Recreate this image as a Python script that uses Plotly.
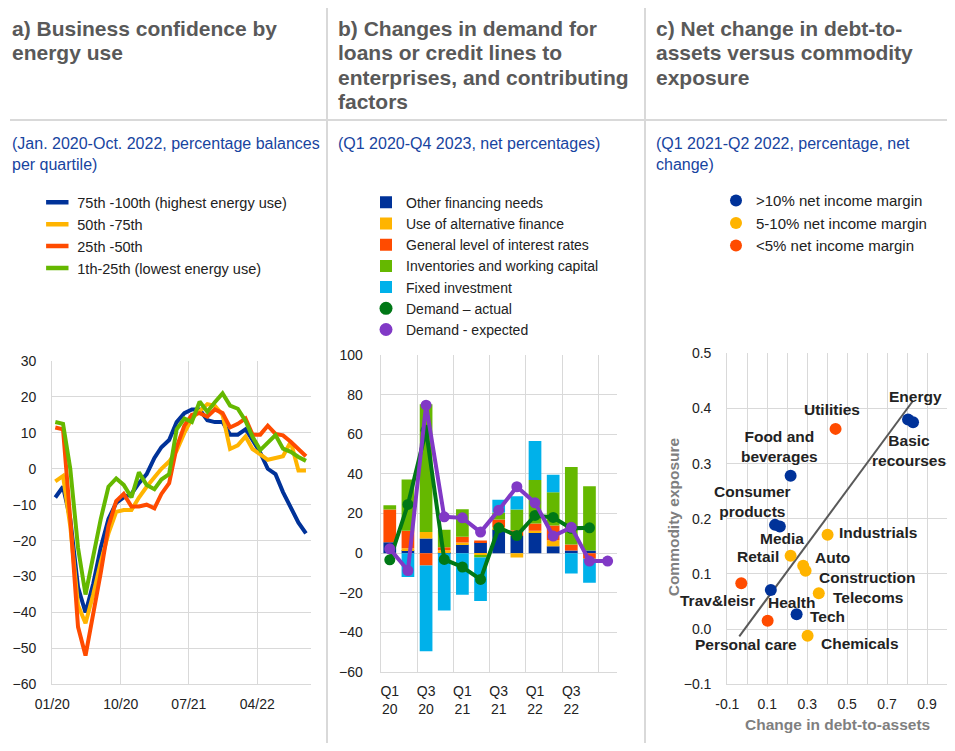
import pandas as pd
import plotly.graph_objects as go

# ---------------- data ----------------
# Panel a: business confidence by energy-use quartile (monthly, Jan 2020 - Oct 2022)
months = pd.date_range("2020-01-01", periods=34, freq="MS")
month_ticks = ["2020-01-01", "2020-10-01", "2021-07-01", "2022-04-01"]
month_tick_labels = ["01/20", "10/20", "07/21", "04/22"]
q4_highest = [-8, -5, -14, -33, -40, -32, -22, -14, -9.5, -8, -7, -4, -1.5, 3, 6, 8, 13, 15.5,
              16.5, 16.5, 13.5, 13, 13, 9.5, 9.5, 11, 8, 4.5, 0, -1.5, -6.5, -11, -15, -18]
q3_mid_high = [-3.5, -2, -16, -38, -43, -35, -26, -18, -12, -11.5, -11.5, -8, -5, -2.5, 0, 2, 5, 10,
               14, 16, 18, 17.5, 15, 5.5, 6.5, 9, 5.5, 4, 2.5, 3, 3.5, 7.5, -0.5, -0.5]
q2_mid_low = [11.5, 11, -14, -44, -52, -41, -29, -16, -9, -7, -10.5, -10.5, -10, -11, -7, -4, 6, 12,
              15, 15.5, 14.5, 16.5, 15.5, 11.5, 12.5, 14, 9.5, 9.5, 12, 9.7, 9.3, 7.5, 5.5, 3.5]
q1_lowest = [13, 12.5, 0, -22, -35, -24, -14, -5, -2.7, -4.5, -8, -1, -4.5, -5.7, -3, -1.5, 11, 14,
             13, 18.7, 15.9, 18.5, 21, 17.6, 16.7, 13.3, 8.9, 5.2, 7.2, 9.4, 5.6, 4.7, 3.3, 2.2]
names_a = ["75th -100th (highest energy use)", "50th -75th", "25th -50th", "1th-25th (lowest energy use)"]

# Panel b: loan demand and contributing factors (quarterly)
quarters = ["Q1 20", "Q2 20", "Q3 20", "Q4 20", "Q1 21", "Q2 21", "Q3 21", "Q4 21",
            "Q1 22", "Q2 22", "Q3 22", "Q4 22", "Q1 23"]
other_financing = [5.5, 1.5, 7.4, 0.5, 4.4, 5.6, 12, 8.6, 10.3, 3.5, 1.3, 1.3, None]
alternative_finance = [0, 1, 3.2, 1, 1, -1, 1, -2.2, 1, 3, 0, 0, None]
interest_rates = [16.5, 8.8, -6.2, 1.5, 2.9, 0.8, 4, 3, 3.7, 7.5, 3, -2.9, None]
inventories = [2.2, 25.8, 64.5, 8.8, 13.8, -1.2, 3.5, 10.4, 21.9, 16.7, 39.2, 32.5, None]
fixed_investment = [0, -12, -43.3, -29, -21, -22, 6.5, 6.7, 19.7, 8.9, -10.3, -12.1, None]
demand_actual = [-3.4, 24.6, 62, -3.2, -7, -13.3, 12.8, 8.9, 19, 18, 12.5, 12.8, None]
demand_expected = [2.2, -8.8, 74.7, 18.3, 17.8, 10.6, 21.7, 33.5, 25.4, 8.6, 13, -4, -4]

# Panel c: net change in debt-to-assets vs commodity exposure
sectors = ["Energy", "Basic<br>recourses", "Utilities", "Food and<br>beverages", "Consumer<br>products",
           "Media", "Industrials", "Retail", "Auto", "Construction", "Telecoms", "Trav&leisr",
           "Health", "Tech", "Personal care", "Chemicals"]
debt_change = [0.805, 0.83, 0.442, 0.217, 0.139, 0.163, 0.402, 0.217, 0.28, 0.292, 0.358, -0.03,
               0.118, 0.247, 0.102, 0.302]
commodity_exposure = [0.38, 0.375, 0.363, 0.278, 0.189, 0.186, 0.171, 0.133, 0.115, 0.106, 0.065,
                      0.083, 0.071, 0.027, 0.015, -0.012]
margin_group = [">10%", ">10%", "<5%", ">10%", ">10%", ">10%", "5-10%", "5-10%", "5-10%", "5-10%",
                "5-10%", "<5%", ">10%", ">10%", "<5%", "5-10%"]
trend_x = [-0.04, 0.83]
trend_y = [-0.013, 0.414]

# ---------------- styling ----------------
PAGE_W, PAGE_H = 955, 751
BODY_MARGIN = 8                      # default browser body margin
W, H = PAGE_W - 2 * BODY_MARGIN, PAGE_H - 2 * BODY_MARGIN
FONT = "Arial, Liberation Sans, sans-serif"
GRID = "#d9d9d9"
TICK = "#222222"
TITLE_C = "#595959"
SUB_C = "#17449f"
DBLUE, YELLOW, ORANGE, GREEN, LBLUE = "#003299", "#FFB400", "#FF4B00", "#65B800", "#00B1EA"
DGREEN, PURPLE = "#007816", "#8139C6"


def fx(px):
    """page pixel x -> paper fraction"""
    return (px - BODY_MARGIN) / W


def fy(py):
    """page pixel y -> paper fraction"""
    return 1 - (py - BODY_MARGIN) / H


def dom(a, b):
    return [max(0.0, min(1.0, a)), max(0.0, min(1.0, b))]


fig = go.Figure()

# ---- panel a ----
xdates = months + pd.Timedelta(days=12)
for vals, name, col in zip([q4_highest, q3_mid_high, q2_mid_low, q1_lowest], names_a,
                           [DBLUE, YELLOW, ORANGE, GREEN]):
    fig.add_trace(go.Scatter(x=xdates, y=vals, mode="lines", line=dict(color=col, width=4),
                             showlegend=False, xaxis="x", yaxis="y", hoverinfo="skip"))
    fig.add_trace(go.Scatter(x=[None], y=[None], mode="markers", name=name, legend="legend",
                             marker=dict(symbol="line-ew", size=16, color=col,
                                         line=dict(color=col, width=4.5)),
                             xaxis="x", yaxis="y"))

# ---- panel b ----
xq = list(range(len(quarters)))
for vals, name, col in zip([other_financing, alternative_finance, interest_rates, inventories, fixed_investment],
                           ["Other financing needs", "Use of alternative finance", "General level of interest rates",
                            "Inventories and working capital", "Fixed investment"],
                           [DBLUE, YELLOW, ORANGE, GREEN, LBLUE]):
    fig.add_trace(go.Bar(x=xq, y=vals, name=name, marker=dict(color=col, line=dict(width=0)),
                         width=0.7, legend="legend2", xaxis="x2", yaxis="y2"))
for vals, name, col in zip([demand_actual, demand_expected], ["Demand \u2013 actual", "Demand - expected"],
                           [DGREEN, PURPLE]):
    fig.add_trace(go.Scatter(x=xq, y=vals, mode="lines+markers", line=dict(color=col, width=4),
                             marker=dict(color=col, size=11), showlegend=False,
                             xaxis="x2", yaxis="y2"))
    fig.add_trace(go.Scatter(x=[None], y=[None], mode="markers", name=name, legend="legend2",
                             marker=dict(color=col, size=13), xaxis="x2", yaxis="y2"))

# ---- panel c ----
fig.add_trace(go.Scatter(x=trend_x, y=trend_y, mode="lines", line=dict(color="#595959", width=2),
                         showlegend=False, xaxis="x3", yaxis="y3", hoverinfo="skip"))
for grp, label, col in [(">10%", ">10% net income margin", DBLUE),
                        ("5-10%", "5-10% net income margin", YELLOW),
                        ("<5%", "<5% net income margin", ORANGE)]:
    idx = [i for i, g in enumerate(margin_group) if g == grp]
    fig.add_trace(go.Scatter(x=[debt_change[i] for i in idx], y=[commodity_exposure[i] for i in idx],
                             mode="markers", name=label, legend="legend3",
                             marker=dict(color=col, size=12),
                             text=[sectors[i] for i in idx], xaxis="x3", yaxis="y3"))

# label offsets (pixels: dx right, dy down) and anchors for panel c point labels
label_offsets = {
    "Energy": (7, -23, "center"), "Basic<br>recourses": (-4, 28, "center"),
    "Utilities": (-4, -19, "center"), "Food and<br>beverages": (-11, -29, "center"),
    "Consumer<br>products": (-23, -23, "center"), "Media": (2, 12, "center"),
    "Industrials": (9, -2, "left"), "Retail": (-10, 1, "right"), "Auto": (10, -8, "left"),
    "Construction": (11, 7, "left"), "Telecoms": (12, 4, "left"), "Trav&leisr": (-24, 17, "center"),
    "Health": (21, 13, "center"), "Tech": (11, 2, "left"), "Personal care": (-22, 24, "center"),
    "Chemicals": (11, 8, "left"),
}

annotations = []
for s, xv, yv in zip(sectors, debt_change, commodity_exposure):
    dx, dy, anc = label_offsets[s]
    annotations.append(dict(x=xv, y=yv, xref="x3", yref="y3", text="<b>" + s + "</b>", showarrow=False,
                            xanchor=anc, yanchor="middle", xshift=dx, yshift=-dy,
                            font=dict(family=FONT, size=15.5, color="#222222")))

# panel titles and subtitles
titles = [
    (10, ["a) Business confidence by", "energy use"]),
    (336, ["b) Changes in demand for", "loans or credit lines to", "enterprises, and contributing", "factors"]),
    (654, ["c) Net change in debt-to-", "assets versus commodity", "exposure"]),
]
for xl, lines in titles:
    for k, t in enumerate(lines):
        annotations.append(dict(x=fx(xl), y=fy(28.5 + 24.4 * k), xref="paper", yref="paper",
                                text="<b>" + t + "</b>", showarrow=False, xanchor="left", yanchor="middle",
                                font=dict(family=FONT, size=21, color=TITLE_C)))
subtitles = [
    (10, ["(Jan. 2020-Oct. 2022, percentage balances", "per quartile)"]),
    (336, ["(Q1 2020-Q4 2023, net percentages)"]),
    (654, ["(Q1 2021-Q2 2022, percentage, net", "change)"]),
]
for xl, lines in subtitles:
    for k, t in enumerate(lines):
        annotations.append(dict(x=fx(xl), y=fy(143.3 + 21.7 * k), xref="paper", yref="paper",
                                text=t, showarrow=False, xanchor="left", yanchor="middle",
                                font=dict(family=FONT, size=16, color=SUB_C)))

# axis titles panel c
annotations.append(dict(x=fx(837), y=fy(724.3), xref="paper", yref="paper", text="<b>Change in debt-to-assets</b>",
                        showarrow=False, xanchor="center", yanchor="middle",
                        font=dict(family=FONT, size=15.5, color="#7f7f7f")))
annotations.append(dict(x=fx(673.3), y=fy(517), xref="paper", yref="paper", text="<b>Commodity exposure</b>",
                        showarrow=False, xanchor="center", yanchor="middle", textangle=-90,
                        font=dict(family=FONT, size=15.5, color="#7f7f7f")))

shapes = [
    dict(type="line", xref="paper", yref="paper", x0=fx(10), x1=fx(955), y0=fy(120), y1=fy(120),
         line=dict(color=GRID, width=2)),
    dict(type="line", xref="paper", yref="paper", x0=fx(327), x1=fx(327), y0=fy(8), y1=fy(743),
         line=dict(color=GRID, width=2)),
    dict(type="line", xref="paper", yref="paper", x0=fx(645), x1=fx(645), y0=fy(8), y1=fy(743),
         line=dict(color=GRID, width=2)),
]

tickfont = dict(family=FONT, size=14, color=TICK)
axis_common = dict(showgrid=True, gridcolor=GRID, gridwidth=1.3, showline=True, linecolor=GRID,
                   linewidth=1.3, ticks="", tickfont=tickfont, zeroline=False, fixedrange=True,
                   automargin=False)


def legend_style(size):
    return dict(xanchor="left", yanchor="top", bgcolor="rgba(0,0,0,0)", traceorder="normal",
                font=dict(family=FONT, size=size, color=TICK), borderwidth=0)


fig.update_layout(
    width=W, height=H, autosize=False, margin=dict(l=0, r=0, t=0, b=0, pad=0),
    paper_bgcolor="white", plot_bgcolor="white",
    font=dict(family=FONT, color=TICK),
    barmode="relative", bargap=0.3,
    showlegend=True,
    xaxis=dict(domain=dom(fx(52.3), fx(310.7)), anchor="y", type="date",
               range=["2020-01-01", "2022-11-01"], tickmode="array", tickvals=month_ticks,
               ticktext=month_tick_labels, ticklabelstandoff=7, **axis_common),
    yaxis=dict(domain=dom(fy(684.3), fy(361)), anchor="x", range=[-60, 30], tick0=0, dtick=10,
               ticklabelstandoff=12, **axis_common),
    xaxis2=dict(domain=dom(fx(380.7), fx(616.7)), anchor="y2", range=[-0.5, 12.5], tickmode="array",
                tickvals=xq[0:12:2], ticktext=[quarters[i].replace(" ", "<br>") for i in xq[0:12:2]],
                ticklabelstandoff=6,
                minor=dict(tickmode="array", tickvals=[i - 0.5 for i in xq[2::2]], showgrid=True,
                           gridcolor=GRID, gridwidth=1.3, ticks=""),
                **{**axis_common, "showgrid": False}),
    yaxis2=dict(domain=dom(fy(672), fy(355)), anchor="x2", range=[-60, 100], tick0=0, dtick=20,
                ticklabelstandoff=14, **axis_common),
    xaxis3=dict(domain=dom(fx(727.3), fx(947.3)), anchor="y3", range=[-0.1, 1.0], tickmode="array",
                tickvals=[-0.1, 0.1, 0.3, 0.5, 0.7, 0.9], ticktext=["-0.1", "0.1", "0.3", "0.5", "0.7", "0.9"],
                ticklabelstandoff=7,
                minor=dict(tickmode="array", tickvals=[0.0, 0.2, 0.4, 0.6, 0.8, 1.0], showgrid=True,
                           gridcolor=GRID, gridwidth=1.3, ticks=""),
                **axis_common),
    yaxis3=dict(domain=dom(fy(684.3), fy(353.3)), anchor="x3", range=[-0.1, 0.5], tick0=0, dtick=0.1,
                tickformat=".1f", ticklabelstandoff=12, **axis_common),
    legend=dict(x=fx(37.3), y=fy(186.4), **legend_style(14.5)),
    legend2=dict(x=fx(366), y=fy(186.7), **legend_style(14)),
    legend3=dict(x=fx(716), y=fy(184.3), **legend_style(15)),
    annotations=annotations,
    shapes=shapes,
)

fig.write_html("out.html", config={"displayModeBar": False})
